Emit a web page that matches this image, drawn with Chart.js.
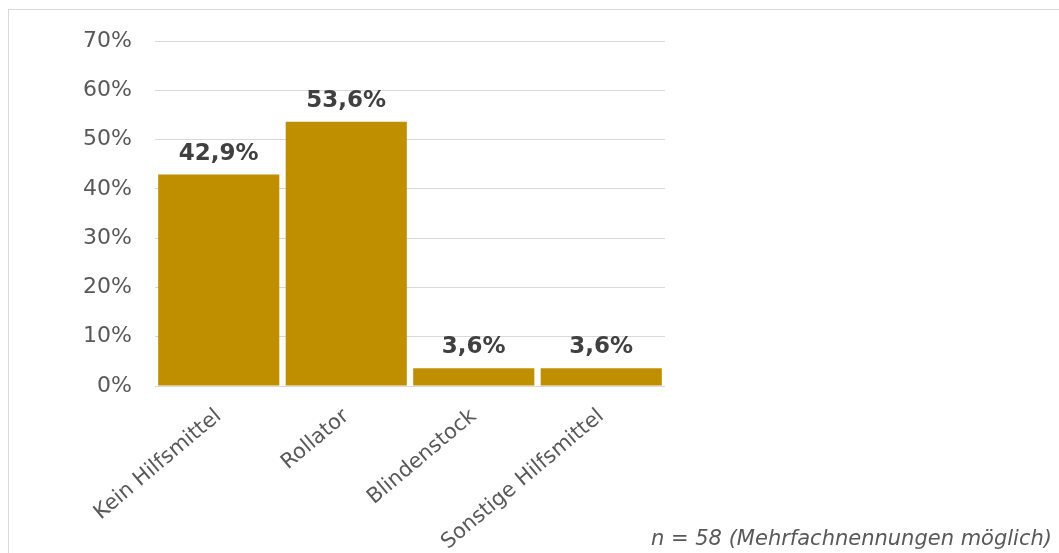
<!DOCTYPE html>
<html>
<head>
<meta charset="utf-8">
<script src="https://cdn.jsdelivr.net/npm/chart.js@4"></script>
<style>
  html, body { margin: 0; padding: 0; background: #fff; }
  #wrap { width: 1059px; height: 553px; position: relative; }
</style>
</head>
<body>
<div id="wrap"><canvas id="c" width="1059" height="553"></canvas></div>
<script>
const categories = ["Kein Hilfsmittel", "Rollator", "Blindenstock", "Sonstige Hilfsmittel"];
const values = [42.9, 53.6, 3.6, 3.6];
const yTicks = [0, 10, 20, 30, 40, 50, 60, 70];
const footnote = "n = 58 (Mehrfachnennungen möglich)";

const FONT = "'DejaVu Sans', Verdana, sans-serif";

const fmt = v => v.toFixed(1).replace('.', ',') + '%';

const labelPlugin = {
  id: 'valueLabels',
  afterDatasetsDraw(chart) {
    const ctx = chart.ctx;
    const meta = chart.getDatasetMeta(0);
    ctx.save();
    ctx.font = "bold 23px " + FONT;
    ctx.fillStyle = '#404040';
    ctx.textAlign = 'center';
    ctx.textBaseline = 'alphabetic';
    meta.data.forEach((bar, i) => {
      ctx.fillText(fmt(values[i]), bar.x, bar.y - 15);
    });
    ctx.restore();
  }
};

const framePlugin = {
  id: 'frame',
  afterDraw(chart) {
    const ctx = chart.ctx;
    ctx.save();
    ctx.strokeStyle = '#d9d9d9';
    ctx.lineWidth = 1;
    ctx.strokeRect(8.5, 9.5, 1100, 600);
    ctx.font = "italic 21px " + FONT;
    ctx.fillStyle = '#595959';
    ctx.textAlign = 'right';
    ctx.textBaseline = 'alphabetic';
    ctx.fillText(footnote, 1052, 545);
    ctx.restore();
  }
};

new Chart(document.getElementById('c'), {
  type: 'bar',
  data: {
    labels: categories,
    datasets: [{
      data: values,
      backgroundColor: '#BF8F00',
      borderWidth: 0,
      categoryPercentage: 1.0,
      barPercentage: 0.95
    }]
  },
  options: {
    responsive: false,
    animation: false,
    devicePixelRatio: 1,
    layout: { padding: { left: 0, top: 41, right: 394, bottom: 0 } },
    plugins: {
      legend: { display: false },
      tooltip: { enabled: false },
      title: { display: false }
    },
    scales: {
      x: {
        grid: { display: false, drawTicks: false },
        border: { display: false },
        ticks: {
          color: '#595959',
          font: { family: FONT, size: 21 },
          minRotation: 40,
          maxRotation: 40,
          padding: 18,
          autoSkip: false
        },
        afterFit(scale) { scale.height = 167; }
      },
      y: {
        min: 0,
        max: 70,
        afterBuildTicks(scale) { scale.ticks = yTicks.map(v => ({ value: v })); },
        grid: { color: '#d9d9d9', lineWidth: 1, drawTicks: false },
        border: { display: false },
        ticks: {
          color: '#595959',
          font: { family: FONT, size: 22 },
          padding: 23,
          callback: v => v + '%'
        },
        afterFit(scale) { scale.width = 155; }
      }
    }
  },
  plugins: [labelPlugin, framePlugin]
});
</script>
</body>
</html>
